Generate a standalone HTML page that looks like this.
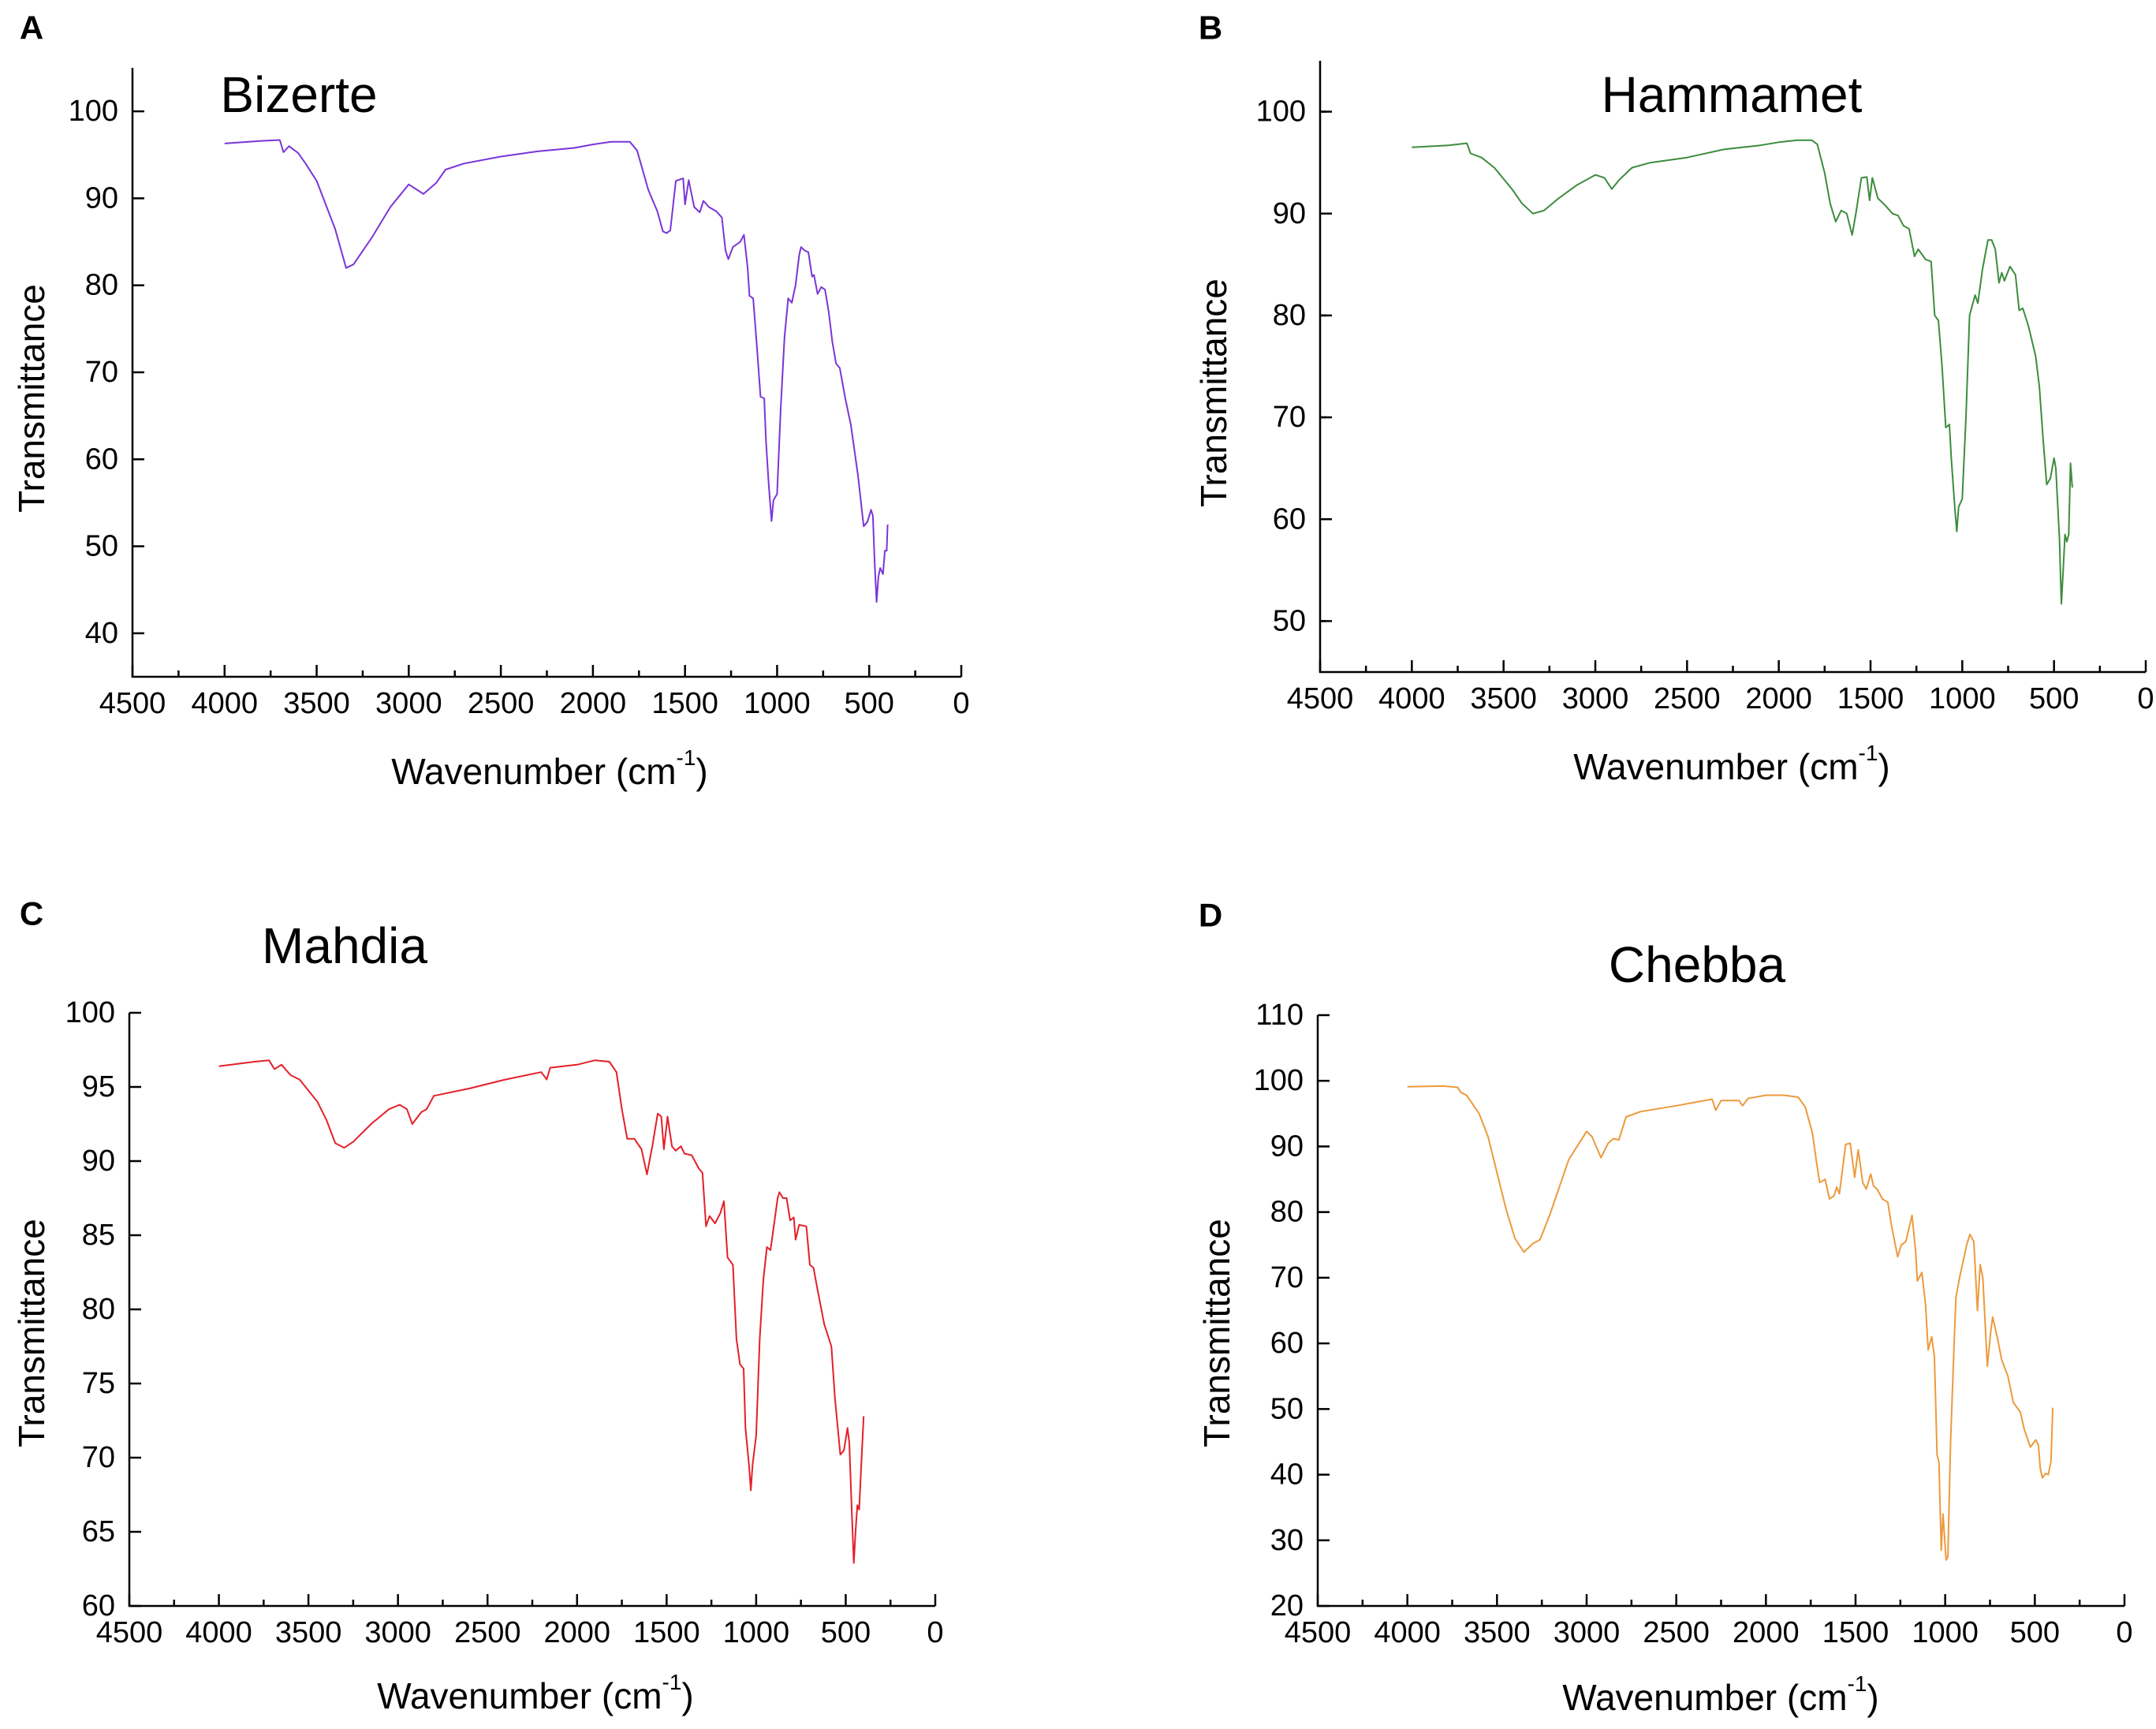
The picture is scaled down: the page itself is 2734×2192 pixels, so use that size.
<!DOCTYPE html>
<html><head><meta charset="utf-8"><style>
html,body{margin:0;padding:0;background:#fff;}
svg{display:block;}
text{font-family:"Liberation Sans",Arial,sans-serif;fill:#000;}
</style></head>
<body>
<svg id="fig" width="2734" height="2192" viewBox="0 0 2734 2192" xmlns="http://www.w3.org/2000/svg"></svg>
<script>
// ---- data (wavenumber cm-1, transmittance) ----
const bizerteWn = [4000,3800,3700,3680,3650,3600,3560,3500,3400,3340,3300,3200,3100,3000,2920,2850,2800,2700,2500,2300,2100,2000,1900,1800,1760,1700,1650,1620,1600,1580,1550,1510,1500,1480,1450,1420,1400,1370,1330,1300,1280,1265,1240,1200,1180,1160,1150,1130,1110,1090,1070,1060,1045,1030,1020,1000,980,960,940,920,900,880,870,850,830,810,800,780,760,740,720,700,680,660,630,600,560,530,510,490,480,470,460,450,440,425,415,405,400];
const bizerteT = [96.3,96.6,96.7,95.3,96.0,95.2,94.0,92.0,86.5,82.0,82.4,85.5,89.0,91.6,90.5,91.8,93.3,94.0,94.8,95.4,95.8,96.2,96.5,96.5,95.5,91.0,88.5,86.2,86.0,86.3,92.0,92.3,89.3,92.1,89.0,88.4,89.7,89.0,88.5,87.8,84.0,83.0,84.4,85.0,85.8,82.0,78.8,78.5,73.0,67.2,67.0,62.0,57.0,52.9,55.3,56.0,66.0,74.0,78.5,78.0,80.0,83.5,84.4,84.0,83.8,81.0,81.2,79.0,79.8,79.5,77.0,73.5,71.0,70.5,67.0,64.0,58.0,52.3,52.8,54.2,53.5,48.0,43.6,46.5,47.5,46.8,49.5,49.5,52.5];
const hammametWn = [4000,3800,3700,3680,3620,3550,3450,3400,3340,3280,3200,3100,3000,2950,2910,2870,2800,2700,2500,2300,2100,2000,1900,1820,1790,1750,1720,1690,1660,1630,1600,1580,1550,1520,1505,1490,1460,1420,1380,1350,1320,1290,1260,1240,1200,1170,1150,1130,1110,1090,1070,1060,1040,1030,1020,1000,980,960,930,915,890,860,840,820,800,785,770,740,710,690,670,640,600,580,560,540,520,500,490,470,460,450,440,430,420,410,400];
const hammametT = [96.5,96.7,96.9,95.9,95.5,94.5,92.3,91.0,90.0,90.3,91.5,92.8,93.8,93.5,92.4,93.3,94.5,95.0,95.5,96.3,96.7,97.0,97.2,97.2,96.8,94.0,91.0,89.2,90.3,90.0,87.9,90.0,93.5,93.6,91.3,93.5,91.5,90.8,90.0,89.8,88.8,88.5,85.8,86.5,85.5,85.3,80.0,79.5,75.0,69.0,69.3,66.0,61.0,58.8,61.2,62.0,70.0,80.0,82.0,81.2,84.5,87.4,87.4,86.5,83.2,84.2,83.4,84.8,84.0,80.5,80.7,79.0,76.0,73.0,68.0,63.4,64.0,66.0,65.0,58.0,51.7,55.0,58.5,57.8,58.5,65.5,63.1];
const mahdiaWn = [4000,3800,3720,3690,3650,3600,3550,3450,3400,3350,3300,3250,3150,3050,2990,2950,2920,2870,2840,2800,2600,2400,2200,2170,2150,2000,1900,1820,1780,1750,1720,1680,1640,1610,1580,1550,1530,1515,1495,1470,1450,1420,1400,1360,1320,1300,1280,1260,1230,1200,1180,1160,1130,1110,1090,1070,1060,1040,1030,1020,1000,980,960,940,920,880,870,850,830,810,790,780,760,720,700,680,660,620,580,560,530,510,490,480,465,455,445,435,425,415,400];
const mahdiaT = [96.4,96.7,96.8,96.2,96.5,95.8,95.5,94.0,92.8,91.2,90.9,91.3,92.5,93.5,93.8,93.5,92.5,93.3,93.5,94.4,94.9,95.5,96.0,95.5,96.3,96.5,96.8,96.7,96.0,93.5,91.5,91.5,90.8,89.1,91.0,93.2,93.0,90.8,93.0,91.0,90.7,91.0,90.5,90.4,89.5,89.2,85.6,86.3,85.8,86.5,87.3,83.5,83.0,78.0,76.3,76.0,72.0,69.5,67.8,69.5,71.5,78.0,82.0,84.2,84.0,87.5,87.9,87.5,87.5,86.0,86.2,84.7,85.7,85.6,83.0,82.8,81.5,79.0,77.5,74.0,70.2,70.5,72.0,71.0,66.0,62.9,65.0,66.8,66.5,69.0,72.8];
const chebbaWn = [4000,3800,3720,3700,3670,3600,3550,3500,3450,3400,3350,3300,3260,3200,3150,3100,3000,2970,2920,2880,2850,2820,2780,2700,2500,2300,2280,2250,2150,2130,2100,2000,1900,1820,1780,1740,1720,1700,1670,1645,1620,1605,1590,1555,1530,1505,1485,1460,1440,1415,1400,1380,1350,1320,1300,1265,1245,1220,1185,1165,1155,1130,1110,1095,1075,1060,1045,1035,1022,1012,995,985,970,950,940,920,880,862,840,820,805,790,775,765,745,735,710,685,650,620,580,560,525,495,480,470,458,440,425,410,400];
const chebbaT = [99.1,99.2,99.0,98.2,97.8,95.0,91.5,86.0,80.5,76.0,73.9,75.2,75.8,80.0,84.0,88.0,92.3,91.5,88.3,90.5,91.2,91.0,94.5,95.3,96.2,97.2,95.5,97.0,97.0,96.2,97.3,97.8,97.8,97.5,96.0,92.0,88.0,84.5,85.0,82.0,82.5,83.8,82.8,90.3,90.5,85.3,89.5,84.5,83.5,85.8,84.0,83.5,82.0,81.5,78.0,73.2,75.0,75.5,79.5,74.0,69.5,70.8,66.0,59.0,61.0,58.0,43.0,42.0,28.5,34.0,27.0,27.5,45.0,60.0,67.0,70.0,75.0,76.6,75.5,65.0,72.0,70.0,62.0,56.5,62.0,64.0,61.0,57.5,55.0,51.0,49.5,47.0,44.2,45.3,44.5,41.0,39.5,40.2,40.0,42.0,50.2];
const xTickLabels = ["4500","4000","3500","3000","2500","2000","1500","1000","500","0"];
const yTicksA = [40,50,60,70,80,90,100];
const yTicksB = [50,60,70,80,90,100];
const yTicksC = [60,65,70,75,80,85,90,95,100];
const yTicksD = [20,30,40,50,60,70,80,90,100,110];

const NS = "http://www.w3.org/2000/svg";
const fig = document.getElementById('fig');
function mk(tag, attrs, parent){
  const e = document.createElementNS(NS, tag);
  for (const k in attrs) e.setAttribute(k, attrs[k]);
  (parent||fig).appendChild(e);
  return e;
}

const panels = [
 {key:'a', letter:'A', title:'Bizerte', wn:bizerteWn, t:bizerteT, color:'#7a35d8', yt:yTicksA, minorY:false,
  x0:168, x1:1219, yb:858, yt0:86, vmin:35, vmax:105, lx:40, ly:35, tx:379, ty:120, ylx:40, yly:505, xlx:697, xly:978},
 {key:'b', letter:'B', title:'Hammamet', wn:hammametWn, t:hammametT, color:'#3d8c3d', yt:yTicksB, minorY:true,
  x0:1674, x1:2721, yb:852, yt0:77, vmin:45, vmax:105, lx:1535, ly:35, tx:2196, ty:120, ylx:1539, yly:498, xlx:2196, xly:972},
 {key:'c', letter:'C', title:'Mahdia', wn:mahdiaWn, t:mahdiaT, color:'#e4202a', yt:yTicksC, minorY:false,
  x0:164, x1:1186, yb:2036, yt0:1284, vmin:60, vmax:100, lx:40, ly:1158, tx:437, ty:1199, ylx:40, yly:1690, xlx:679, xly:2150},
 {key:'d', letter:'D', title:'Chebba', wn:chebbaWn, t:chebbaT, color:'#ec9a3c', yt:yTicksD, minorY:false,
  x0:1671, x1:2694, yb:2036, yt0:1287, vmin:20, vmax:110, lx:1535, ly:1160, tx:2152, ty:1223, ylx:1543, yly:1690, xlx:2182, xly:2152}
];

panels.forEach(p => {
  const g = mk('g', {});
  
  
  const xs = w => p.x0 + (4500 - w) / 4500 * (p.x1 - p.x0);
  const ys = v => p.yb - (v - p.vmin) / (p.vmax - p.vmin) * (p.yb - p.yt0);

  const lab = mk('text', {x:p.lx, y:p.ly, 'font-size':42, 'font-weight':'bold', 'text-anchor':'middle', 'dominant-baseline':'central'}, g);
  lab.textContent = p.letter;
  
  

  const tt = mk('text', {x:p.tx, y:p.ty, 'font-size':64, 'text-anchor':'middle', 'dominant-baseline':'central'}, g);
  tt.textContent = p.title;
  
  

  const axes = mk('path', {d:`M${p.x0},${p.yt0} V${p.yb} H${p.x1}`, fill:'none', stroke:'#000', 'stroke-width':2.5}, g);
  
  

  // x ticks (pointing inward/up)
  for (let w = 4500; w >= 0; w -= 250) {
    const major = w % 500 === 0;
    const tk = mk('line', {x1:xs(w), x2:xs(w), y1:p.yb, y2:p.yb - (major ? 15 : 8), stroke:'#000', 'stroke-width':2.5}, g);
    
    
  }
  xTickLabels.forEach(s => {
    const w = +s;
    const tl = mk('text', {x:xs(w), y:p.yb + 34, 'font-size':38, 'text-anchor':'middle', 'dominant-baseline':'central'}, g);
    tl.textContent = s;
    
    
  });
  // y ticks (pointing inward/right)
  p.yt.forEach(v => {
    const tk = mk('line', {x1:p.x0, x2:p.x0 + 15, y1:ys(v), y2:ys(v), stroke:'#000', 'stroke-width':2.5}, g);
    
    
    const tl = mk('text', {x:p.x0 - 18, y:ys(v), 'font-size':38, 'text-anchor':'end', 'dominant-baseline':'central'}, g);
    tl.textContent = String(v);
    
    
  });
  if (p.minorY) {
    for (let v = p.vmin + 5; v < p.vmax; v += 10) {
      const tk = mk('line', {x1:p.x0, x2:p.x0 + 8, y1:ys(v), y2:ys(v), stroke:'#000', 'stroke-width':2.5}, g);
      
      
    }
  }
  const yl = mk('text', {x:0, y:0, 'font-size':46, 'text-anchor':'middle', 'dominant-baseline':'central', transform:`translate(${p.ylx},${p.yly}) rotate(-90)`}, g);
  yl.textContent = 'Transmittance';
  
  

  const xl = mk('text', {x:p.xlx, y:p.xly, 'font-size':46, 'text-anchor':'middle', 'dominant-baseline':'central'}, g);
  xl.appendChild(document.createTextNode('Wavenumber (cm'));
  const sup = mk('tspan', {dy:-18, 'font-size':28}, xl);
  sup.textContent = '-1';
  const close = mk('tspan', {dy:18}, xl);
  close.textContent = ')';
  
  

  let d = '';
  p.wn.forEach((w, i) => { d += (i ? 'L' : 'M') + xs(w).toFixed(1) + ',' + ys(p.t[i]).toFixed(1); });
  const line = mk('path', {d:d, fill:'none', stroke:p.color, 'stroke-width':2, 'stroke-linejoin':'round'}, g);
  
  
});
</script>
</body></html>
